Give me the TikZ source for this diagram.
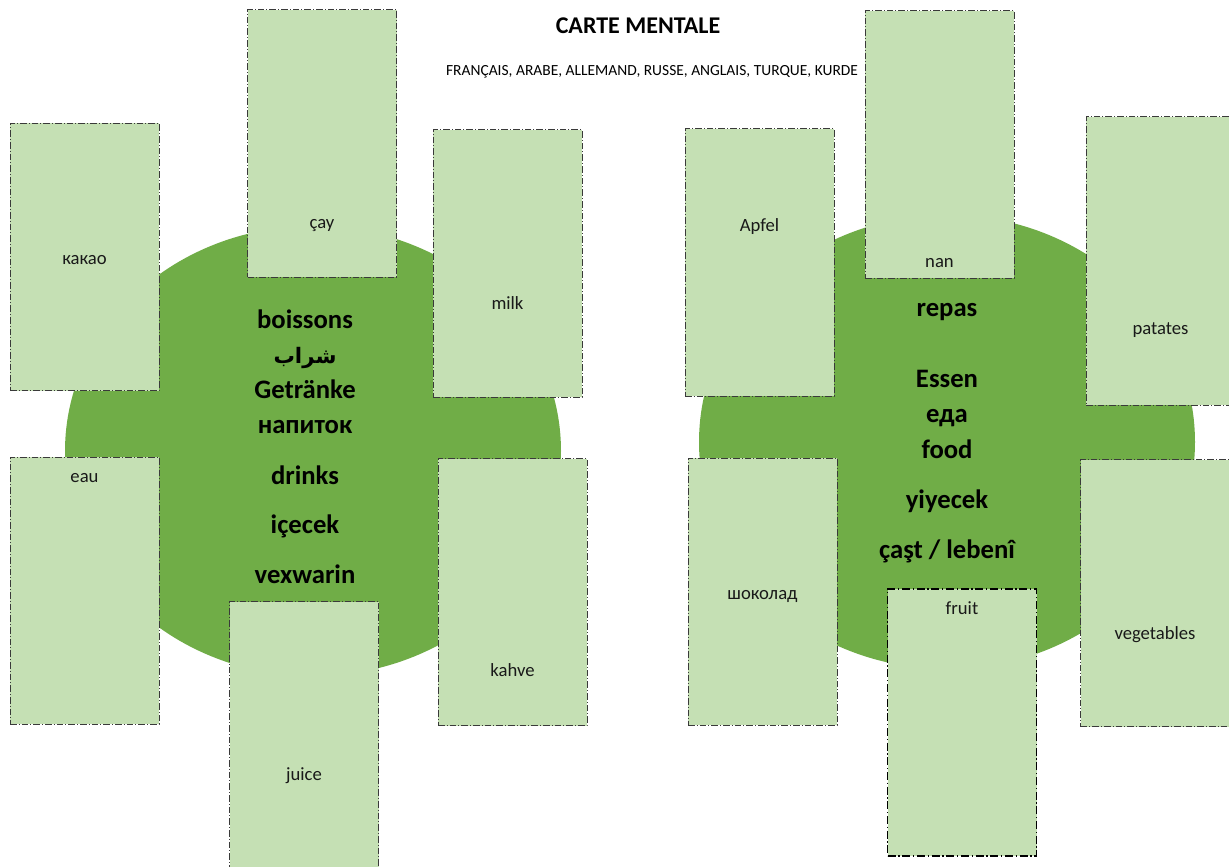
\documentclass[tikz,border=0pt]{standalone}
\usepackage{fontspec}
\setmainfont{Carlito}
\newfontfamily\arabicfont[Script=Arabic]{DejaVu Sans}
\TeXXeTstate=1
\usetikzlibrary{shapes.geometric}
\definecolor{hubFill}{HTML}{70AD47}
\definecolor{cardFill}{HTML}{C5E0B4}
\definecolor{cardLine}{HTML}{3A3A3A}
\tikzset{
    hub/.style={
        ellipse,
        fill=hubFill,
        inner sep=0pt,
        minimum width=372pt
    },
    hub_word/.style={
        font=\fontsize{20}{22}\selectfont\bfseries,
        text=black,
        text height=0.75em,
        text depth=0.25em,
        yshift=-4.5pt,
        inner sep=0pt
    },
    card/.style={
        rectangle,
        fill=cardFill,
        draw=cardLine,
        line width=0.75pt,
        dash pattern=on 5pt off 1.5pt on 0.75pt off 1.5pt,
        minimum width=111.75pt,
        minimum height=200.25pt,
        inner sep=0pt
    },
    card_strong/.style={
        card,
        draw=black,
        line width=1.3pt,
        dash pattern=on 6pt off 2pt on 1pt off 2pt
    },
    card_word/.style={
        font=\fontsize{14}{16}\selectfont,
        text=black!90,
        text height=0.75em,
        text depth=0.25em,
        yshift=-2.25pt,
        inner sep=0pt
    }
}
\begin{document}
\begin{tikzpicture}[x=0.75pt, y=-0.75pt]
    \useasboundingbox (0,0) rectangle (1229,867);

    % heading
    \node[font=\fontsize{18}{20}\selectfont\bfseries] (title) at (638,26) {CARTE MENTALE};
    \node[font=\fontsize{11.6}{13}\selectfont] (langs) at (652,72)
        {FRANÇAIS, ARABE, ALLEMAND, RUSSE, ANGLAIS, TURQUE, KURDE};

    % the two hubs
    \node[hub, minimum height=337.5pt] (drinks) at (313,451) {};
    \node[hub, minimum height=340.5pt] (food) at (947,442) {};

    \foreach \w/\y [count=\i] in {boissons/319, Getränke/389, напиток/424,
                                  drinks/475, içecek/524, vexwarin/574}
        \node[hub_word] (drinks-\i) at (305,\y) {\w};
    \node[hub_word, font=\fontsize{16}{18}\arabicfont\bfseries] (drinks-ar) at (305,354)
        {\beginR شراب\endR};

    \foreach \w/\y [count=\i] in {repas/307, Essen/378, еда/413, food/449,
                                  yiyecek/499, {çaşt / lebenî}/549}
        \node[hub_word] (food-\i) at (947,\y) {\w};

    % cards round the drinks
    \node[card] (kakao) at (84.5,257) {};
    \node[card] (cay) at (322,143.5) {};
    \node[card] (milk) at (507.5,263.5) {};
    \node[card] (eau) at (84.5,590.5) {};
    \node[card] (kahve) at (512.5,592) {};
    \node[card] (juice) at (304,735) {};
    \node[card_word] (kakao-txt) at (84.5,258) {какао};
    \node[card_word] (cay-txt) at (322,222) {çay};
    \node[card_word] (milk-txt) at (507.5,303) {milk};
    \node[card_word] (eau-txt) at (84.5,476) {eau};
    \node[card_word] (kahve-txt) at (512.5,670) {kahve};
    \node[card_word] (juice-txt) at (304,774) {juice};

    % cards round the food
    \node[card] (apfel) at (759.5,262.5) {};
    \node[card] (nan) at (939.5,144.5) {};
    \node[card, minimum height=216pt] (patates) at (1160.5,261) {};
    \node[card] (shokolad) at (762.5,591.5) {};
    \node[card_strong] (fruit) at (962,722.5) {};
    \node[card] (vegetables) at (1155,593) {};
    \node[card_word] (apfel-txt) at (759.5,225) {Apfel};
    \node[card_word] (nan-txt) at (939.5,261) {nan};
    \node[card_word] (patates-txt) at (1160.5,328) {patates};
    \node[card_word] (shokolad-txt) at (762.5,593) {шоколад};
    \node[card_word] (fruit-txt) at (962,608) {fruit};
    \node[card_word] (vegetables-txt) at (1155,633) {vegetables};
\end{tikzpicture}
\end{document}
